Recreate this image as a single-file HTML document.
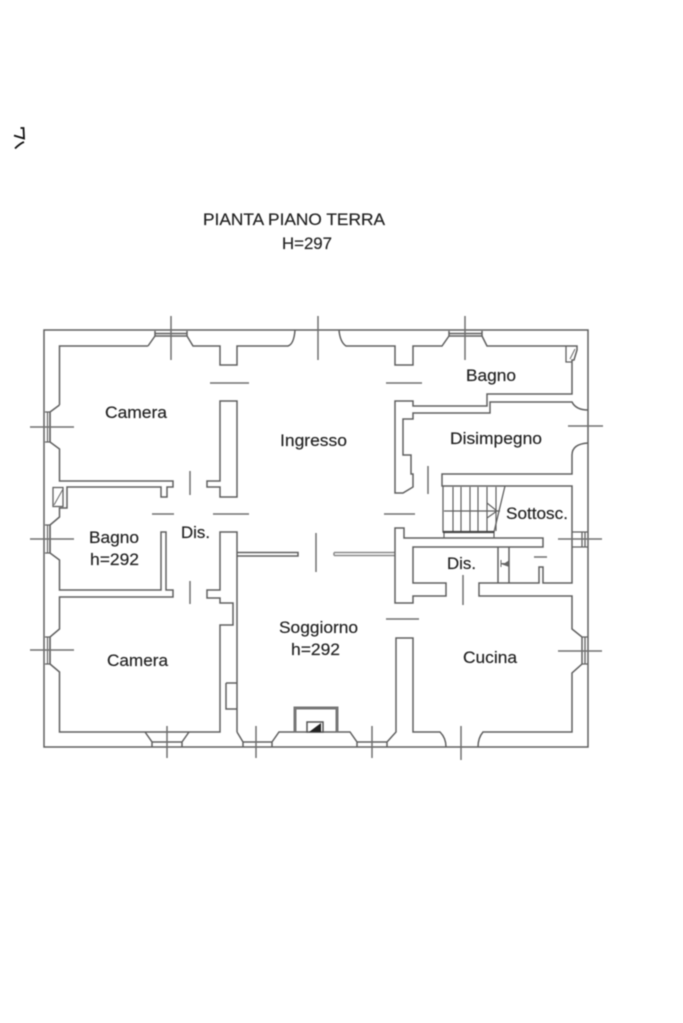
<!DOCTYPE html>
<html>
<head>
<meta charset="utf-8">
<style>
html,body{margin:0;padding:0;background:#fff;width:683px;height:1023px;overflow:hidden}
svg{display:block;filter:blur(.5px)}
.w{fill:none;stroke:#606060;stroke-width:1.5;stroke-linejoin:miter}
.d{fill:none;stroke:#707070;stroke-width:1.5}
.t{font-family:"Liberation Sans",sans-serif;font-size:16.5px;fill:#222;stroke:#333;stroke-width:.2}
</style>
</head>
<body>
<svg width="683" height="1023" viewBox="0 0 683 1023" xmlns="http://www.w3.org/2000/svg">
<!-- corner mark -->
<path d="M20.500 128H23.500L24 138.500L14 135.500M15 148.500Q20 143.500 24 142" fill="none" stroke="#111" stroke-width="1.800"/>

<!-- outer wall -->
<path class="w" d="M295 330H44V747H588V330H339M295 330H339"/>

<!-- top-left + top run -->
<path class="w" d="M295 330Q294 344 288 346H237V365H220V346H193L187 336M148 346L155 336M148 346H59.500V405"/>
<path class="w" d="M339 330Q340 342 346 346H395V365H413V346H442L449 336M482 336L487 346H577V350L574 360H572V394H487V406H413V401H395V493H403L413 487V474H411V455H403V419H413V413H490V402H572Q576 410 588 410"/>
<path class="w" d="M566 346V362H572" style="stroke-width:1.300"/>
<path d="M570 359L575 349" stroke="#666" stroke-width="1" fill="none"/>
<!-- top windows -->
<path class="w" d="M155 331V336H187V331M155 333.500H187"/>
<path class="w" d="M449 331V336H482V331M449 333.500H482"/>

<!-- left side -->
<path class="w" d="M59.500 405L50 412V442L59.500 449V481H173V487H167V497H161V487H67V508H59.500V517L50 525V553L59.500 560V590H161V532H166V590H173V597H59.500V629L50 637V664L59.500 672V732H145L152 742V747M145 732H220V625H233V603H220V598H207V590H220V532H237V732"/>
<path class="w" d="M45 412H50V442H45M45 525H50V553H45M45 637H50V664H45" style="stroke-width:1.300"/>
<path class="w" d="M47.500 412V442M47.500 525V553M47.500 637V664" style="stroke-width:1.100"/>
<!-- bagno flue -->
<rect class="w" x="53" y="487.500" width="10" height="19" style="stroke-width:1.300"/>
<path d="M54 505L63 489" stroke="#666" stroke-width="1" fill="none"/>

<!-- central pillars -->
<path class="w" d="M220 401H237V497H220V487H207V481H220Z"/>
<path class="w" d="M237 552.500H298V556H237"/>
<path class="w" d="M334 552.500H395M334 555.500H395M334 552.500V555.500" style="stroke:#8a8a8a"/>
<path class="w" d="M226 683H237M226 683V709H237"/>

<!-- bottom walls -->
<path class="w" d="M152 742H182V747M182 742L189 732M243 747V742H272V747M237 732L243 742M272 742L279 732H350L357 742V747M357 742H387V747M387 742L396 732V638H413V732H440Q446 738 446 747M478 747Q478 738 483 732H572V673L582 664V637L572 629V596H479V583H539V567H543V583H572V486H442V474H572V455Q572 444 588 443"/>
<path class="w" d="M582 637H588M582 664H588M585 637V664" style="stroke-width:1.300"/>

<!-- right pillar -->
<path class="w" d="M395 528H404V538H543V547H413V583H446V596H413V603H395Z"/>
<path class="w" d="M498 547V583M509 547V583"/>
<path d="M501 560V567M501 563.500H505L508 561.500V566Z" fill="#666" stroke="#666" stroke-width="1"/>

<!-- sottosc window -->
<path class="w" d="M572 532H588M572 547H588M582 532V547M585 532V547" style="stroke-width:1.300"/>

<!-- stairs -->
<path class="w" d="M443 486V532H494L505 486" style="stroke-width:1.300"/>
<path class="w" d="M453 487V531M461 487V531M470 487V531M478 487V531M487 487V531M496 487V531M444 511H500M487 503L497 511L487 518M444 531V538M494 532V538" style="stroke-width:1.200"/>
<path d="M443 532H494" stroke="#444" stroke-width="2.200"/>

<!-- fireplace -->
<path d="M295 732V708H337V732" fill="none" stroke="#777" stroke-width="3"/>
<path d="M307 732V722H323V732Z" fill="#fff" stroke="#555" stroke-width="1.500"/>
<path d="M309 732L321 723V732Z" fill="#222"/>

<!-- door and crosshair lines -->
<path class="d" d="M171 316V360M318 316V360M465 316V360M30 427H74M30 539H74M30 650H74M167 726V758M256 726V758M372 726V758M461 726V760M558 651H602M558 539H602M568 426H603
M210 383H249M386 383H422M190 471V495M152 514H174M213 514H249M384 514H415M428 466V494M316 533V572M190 581V604M386 619H419M463 575V605M534 557H547"/>

<!-- labels -->
<text class="t" x="203" y="225" textLength="182" lengthAdjust="spacingAndGlyphs">PIANTA PIANO TERRA</text>
<text class="t" x="282" y="249" textLength="50" lengthAdjust="spacingAndGlyphs">H=297</text>
<text class="t" x="105" y="418" textLength="62" lengthAdjust="spacingAndGlyphs">Camera</text>
<text class="t" x="280" y="446" textLength="67" lengthAdjust="spacingAndGlyphs">Ingresso</text>
<text class="t" x="466" y="381" textLength="50" lengthAdjust="spacingAndGlyphs">Bagno</text>
<text class="t" x="450" y="444" textLength="92" lengthAdjust="spacingAndGlyphs">Disimpegno</text>
<text class="t" x="506" y="519" textLength="62" lengthAdjust="spacingAndGlyphs">Sottosc.</text>
<text class="t" x="89" y="543" textLength="50" lengthAdjust="spacingAndGlyphs">Bagno</text>
<text class="t" x="90" y="565" textLength="49" lengthAdjust="spacingAndGlyphs">h=292</text>
<text class="t" x="181" y="538" textLength="29" lengthAdjust="spacingAndGlyphs">Dis.</text>
<text class="t" x="447" y="569" textLength="29" lengthAdjust="spacingAndGlyphs">Dis.</text>
<text class="t" x="279" y="633" textLength="79" lengthAdjust="spacingAndGlyphs">Soggiorno</text>
<text class="t" x="291" y="655" textLength="49" lengthAdjust="spacingAndGlyphs">h=292</text>
<text class="t" x="107" y="666" textLength="61" lengthAdjust="spacingAndGlyphs">Camera</text>
<text class="t" x="463" y="663" textLength="54" lengthAdjust="spacingAndGlyphs">Cucina</text>
</svg>
</body>
</html>
